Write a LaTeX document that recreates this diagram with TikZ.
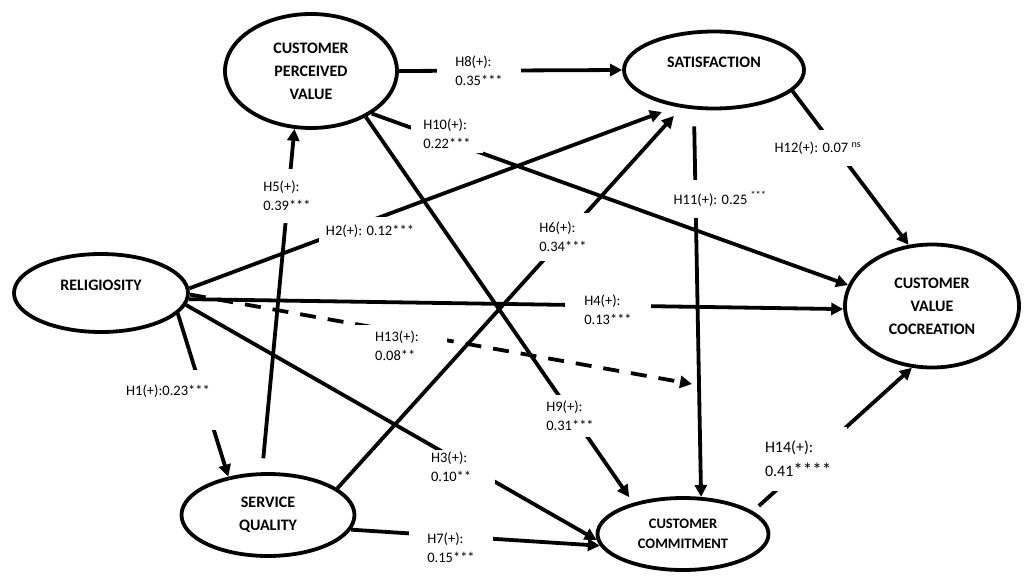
\documentclass[tikz,border=0pt]{standalone}
\usepackage{fontspec}
\setmainfont{Carlito}
\usetikzlibrary{arrows.meta,shapes.geometric}

\begin{document}
\begin{tikzpicture}[x=1pt,y=-1pt]
				\tikzset{
					lv/.style={ellipse, draw=black, line width=3.8pt, fill=white, align=center,
						inner sep=0pt, font=\bfseries\fontsize{16}{23}\selectfont},
					e/.style={-{Triangle[length=12pt,width=12pt]}, draw=black, line width=3.8pt},
					w/.style={font=\fontsize{14.5}{19}\selectfont, fill=white, align=left, inner sep=2pt}
				}
				\useasboundingbox (0,0) rectangle (1024,575);
				
				% ======= Constructs =======
				\node[lv, minimum width=172pt, minimum height=114pt] (cpv) at (311,71) {CUSTOMER\\PERCEIVED\\VALUE};
				\node[lv, minimum width=180pt, minimum height=77pt, text depth=16pt] (sat) at (714,70) {SATISFACTION};
				\node[lv, minimum width=174pt, minimum height=78pt, text depth=16pt] (rel) at (101,293) {RELIGIOSITY};
				\node[lv, minimum width=173pt, minimum height=82pt] (sq) at (268,515) {SERVICE\\QUALITY};
				\node[lv, minimum width=171pt, minimum height=72pt, font=\bfseries\fontsize{14.5}{20}\selectfont] (cc) at (683,534) {CUSTOMER\\COMMITMENT};
				\node[lv, minimum width=174pt, minimum height=123pt] (cvc) at (932,306) {CUSTOMER\\VALUE\\COCREATION};
				\coordinate (h13end) at (692,384);
				
				% ======= Hypothesised paths =======
				\draw[e, dash pattern=on 16pt off 12pt] (rel.-1) -- (h13end)
					node[w, inner xsep=28pt, inner ysep=6pt] at (397,346) {H13(+):\\0.08**};
				\draw[e, shorten <=17pt] (sat.-117) -- (cc.64)
					node[w, inner ysep=12pt] at (720,199) {H11(+): 0.25 \textsuperscript{***}};
				\draw[e] (rel.-15) -- (sq.136)
					node[w, inner sep=0pt, minimum width=96pt, text height=25pt, text depth=35pt] at (168,400) {H1(+):0.23***};
				\draw[e, shorten >=15pt] (rel.3) -- (sat.224)
					node[w, inner xsep=7pt, inner ysep=8pt] at (370,231) {H2(+): 0.12***};
				\draw[e] (rel.-8) -- (cc.184)
					node[w, text width=62pt] at (462,467) {H3(+):\\0.10**};
				\draw[e] (rel.-4) -- (cvc.182)
					node[w, inner xsep=19pt] at (608,310) {H4(+):\\0.13***};
				\draw[e, shorten <=14pt] (sq.98) -- (cpv.254)
					node[w, inner xsep=3pt, inner ysep=12pt] at (287,196) {H5(+):\\0.39***};
				\draw[e, shorten >=11pt] (sq.21) -- (sat.229)
					node[w, inner xsep=4pt, inner ysep=9pt] at (563,237) {H6(+):\\0.34***};
				\draw[e] (sq.-10) -- (cc.188)
					node[w, inner xsep=18pt] at (451,548) {H7(+):\\0.15***};
				\draw[e] (cpv.east) -- (sat.west)
					node[w, inner xsep=18pt] at (479,71) {H8(+):\\0.35***};
				\draw[e, shorten >=7pt] (cpv.-40) -- (cc.148)
					node[w, inner xsep=3pt, inner ysep=6pt] at (570,416) {H9(+):\\0.31***};
				\draw[e] (cpv.-35) -- (cvc.166)
					node[w, inner xsep=12pt, inner ysep=4pt] at (447,134) {H10(+):\\0.22***};
				\draw[e] (sat.-15) -- (cvc.111)
					node[w, inner ysep=12pt] at (818,148) {H12(+): 0.07 \textsuperscript{ns}};
				\draw[e, shorten <=8pt] (cc.18) -- (cvc.252)
					node[w, text width=80pt, inner ysep=14pt, font=\fontsize{16}{24}\selectfont] at (805,459) {H14(+):\\0.41{\fontsize{19}{19}\selectfont ****}};
			\end{tikzpicture}
\end{document}
